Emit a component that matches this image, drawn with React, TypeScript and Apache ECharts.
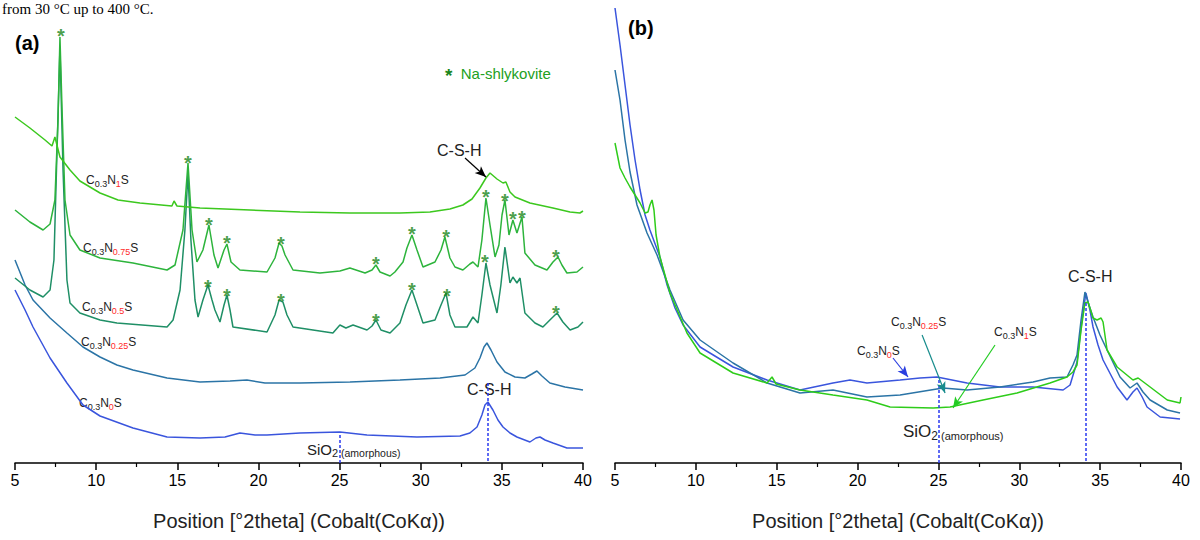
import { useEffect, useRef } from "react";
import * as echarts from "echarts";

// ---------- data (2θ in degrees, intensity in arbitrary units, traces offset) ----------
const X_MIN = 5;
const X_MAX = 40;
const X_STEP = 5;
const X_TITLE = "Position [°2theta] (Cobalt(CoKα))";
const Y_MAX = 463;

// Panel (a)
const a_N1: [number, number][] = [
  [5.0, 346], [5.92, 335], [6.85, 323], [7.28, 317], [7.46, 326], [7.77, 306], [8.39, 293], [9.0, 282],
  [10.24, 270], [11.35, 263], [12.7, 260], [14.67, 257], [14.8, 262], [14.98, 257], [16.4, 255], [19.48, 253],
  [22.56, 251], [25.64, 250], [28.72, 250], [30.57, 251], [31.8, 254], [32.6, 258], [33.16, 264], [33.65, 275],
  [34.02, 285], [34.27, 290], [34.7, 284], [35.07, 280], [35.25, 281], [35.5, 271], [35.81, 266], [36.73, 260],
  [38.15, 255], [39.2, 251], [39.81, 250], [40.0, 252],
];
const a_N075: [number, number][] = [
  [5.0, 253], [5.92, 241], [6.73, 233], [7.16, 239], [7.46, 263], [7.65, 343], [7.77, 426], [7.9, 353],
  [8.08, 263], [8.39, 228], [9.0, 213], [10.24, 205], [12.27, 200], [14.37, 193], [14.86, 198], [15.35, 233],
  [15.66, 300], [15.91, 233], [16.21, 201], [16.58, 213], [16.95, 238], [17.26, 208], [17.51, 195], [17.88, 213],
  [18.06, 219], [18.31, 201], [18.86, 193], [20.53, 191], [21.02, 205], [21.27, 220], [21.45, 217], [21.64, 208],
  [22.13, 193], [23.79, 190], [25.02, 192], [25.64, 195], [26.57, 190], [27.0, 193], [27.24, 198], [27.49, 191],
  [28.11, 187], [28.41, 191], [28.91, 201], [29.15, 215], [29.46, 228], [29.77, 213], [30.14, 196], [30.88, 201],
  [31.25, 213], [31.49, 226], [31.8, 205], [32.11, 196], [32.6, 193], [33.03, 199], [33.22, 201], [33.53, 196],
  [33.77, 223], [34.02, 265], [34.27, 238], [34.58, 206], [34.82, 218], [35.01, 248], [35.19, 263], [35.44, 228],
  [35.68, 243], [35.93, 230], [36.24, 246], [36.42, 210], [37.04, 198], [37.78, 193], [38.15, 201], [38.46, 206],
  [38.7, 198], [39.01, 190], [39.63, 191], [40.0, 196],
];
const a_N05: [number, number][] = [
  [5.0, 185], [5.92, 173], [6.73, 166], [7.16, 173], [7.4, 203], [7.59, 313], [7.77, 415], [7.96, 293],
  [8.2, 183], [8.39, 160], [9.0, 150], [10.24, 143], [11.28, 140], [14.37, 136], [14.74, 143], [15.17, 173],
  [15.47, 233], [15.66, 290], [15.84, 223], [16.09, 163], [16.28, 146], [16.58, 163], [16.89, 178], [17.14, 163],
  [17.32, 153], [17.63, 141], [17.88, 158], [18.06, 168], [18.25, 153], [18.43, 136], [20.53, 131], [21.02, 148],
  [21.27, 163], [21.51, 161], [21.76, 148], [22.13, 136], [24.59, 130], [25.02, 138], [25.39, 135], [25.83, 138],
  [26.69, 133], [27.0, 137], [27.24, 143], [27.55, 133], [28.11, 130], [28.72, 140], [29.09, 158], [29.46, 173],
  [29.77, 158], [30.14, 140], [30.88, 143], [31.25, 158], [31.56, 170], [31.8, 148], [32.11, 136], [32.85, 136],
  [33.22, 146], [33.53, 140], [33.77, 168], [34.02, 200], [34.27, 178], [34.7, 150], [34.94, 178], [35.19, 216],
  [35.5, 180], [35.68, 186], [35.93, 180], [36.12, 185], [36.42, 150], [37.04, 140], [37.53, 136], [37.96, 143],
  [38.4, 150], [38.76, 141], [39.2, 133], [39.69, 136], [40.0, 141],
];
const a_N025: [number, number][] = [
  [5.0, 203], [5.62, 178], [6.11, 163], [7.16, 145], [8.2, 130], [9.19, 116], [10.24, 106], [11.28, 98],
  [12.27, 93], [14.37, 85], [16.4, 81], [18.25, 82], [19.29, 83], [20.4, 80], [22.56, 80], [25.64, 81],
  [28.72, 83], [31.19, 85], [32.73, 88], [33.34, 95], [33.65, 105], [33.9, 116], [34.08, 120], [34.33, 113],
  [34.7, 101], [35.19, 91], [35.81, 86], [36.42, 85], [36.85, 89], [37.16, 92], [37.47, 87], [37.96, 80],
  [38.89, 76], [40.0, 73],
];
const a_N0: [number, number][] = [
  [5.0, 173], [5.62, 153], [6.11, 136], [7.16, 105], [8.2, 80], [9.19, 58], [10.24, 47], [12.27, 35],
  [14.37, 26], [16.4, 25], [17.94, 26], [18.86, 30], [19.79, 28], [20.53, 28], [22.56, 30], [25.02, 31],
  [26.69, 28], [29.77, 26], [32.42, 27], [33.03, 30], [33.47, 36], [33.77, 48], [33.96, 58], [34.14, 61],
  [34.45, 53], [34.76, 43], [35.07, 36], [35.5, 30], [35.93, 26], [36.73, 21], [37.1, 25], [37.35, 26],
  [37.66, 23], [38.15, 20], [39.01, 15], [40.0, 15],
];
// Na-shlykovite reflections marked with "*"
const starsA_N075: [number, number][] = [
  [7.83, 433], [15.66, 306], [16.95, 244], [18.06, 226], [21.39, 225], [27.24, 205], [29.46, 235],
  [31.56, 232], [34.02, 272], [35.19, 268], [35.68, 250], [36.24, 251], [38.33, 212],
];
const starsA_N05: [number, number][] = [
  [16.89, 182], [18.06, 173], [21.39, 168], [27.24, 148], [29.46, 179], [31.62, 173], [33.96, 207], [38.33, 156],
];

// Panel (b)
const b_N0: [number, number][] = [
  [5.0, 455], [5.31, 418], [5.62, 378], [5.93, 338], [6.24, 303], [6.55, 273], [6.86, 248], [7.16, 233],
  [7.78, 206], [8.22, 178], [8.71, 155], [9.21, 138], [10.26, 116], [12.3, 96], [14.4, 83], [16.44, 73],
  [18.48, 80], [19.53, 83], [20.58, 80], [22.63, 83], [23.86, 85], [24.91, 86], [26.77, 80], [28.81, 76],
  [30.85, 76], [32.71, 73], [33.14, 78], [33.57, 101], [33.88, 143], [34.12, 170], [34.37, 153], [34.56, 136],
  [34.87, 118], [35.18, 103], [36.05, 76], [36.66, 63], [37.03, 71], [37.28, 75], [37.6, 66], [37.9, 56],
  [38.71, 46], [39.94, 44],
];
const b_N025: [number, number][] = [
  [5.0, 393], [5.31, 363], [5.62, 323], [5.93, 291], [6.36, 258], [6.98, 230], [7.6, 208], [8.4, 173],
  [9.21, 143], [10.26, 123], [12.3, 100], [14.4, 80], [16.44, 70], [18.48, 73], [20.58, 66], [22.63, 68],
  [25.28, 75], [26.77, 73], [28.81, 76], [30.85, 81], [31.9, 85], [32.95, 86], [33.32, 98], [33.57, 108],
  [33.82, 143], [34.06, 171], [34.31, 158], [34.56, 146], [34.99, 128], [35.43, 113], [36.23, 86], [36.85, 75],
  [37.28, 80], [37.65, 71], [38.09, 63], [39.15, 53], [39.94, 50],
];
const b_N1: [number, number][] = [
  [5.0, 320], [5.31, 295], [5.62, 285], [5.93, 276], [6.24, 268], [6.55, 260], [6.86, 250], [7.04, 251],
  [7.16, 258], [7.29, 263], [7.41, 253], [7.54, 228], [7.78, 206], [8.4, 170], [9.45, 130], [10.26, 110],
  [12.3, 90], [14.4, 80], [14.71, 86], [14.96, 79], [16.44, 73], [18.48, 68], [20.58, 63], [22.01, 56],
  [24.67, 55], [25.72, 56], [27.76, 63], [29.86, 70], [31.9, 80], [32.95, 86], [33.32, 91], [33.57, 98],
  [33.82, 133], [34.06, 160], [34.25, 161], [34.56, 145], [34.81, 143], [35.06, 145], [35.18, 141], [35.43, 113],
  [36.05, 96], [37.03, 83], [37.35, 85], [38.09, 76], [39.15, 63], [39.94, 60], [40.0, 66],
];

// reference lines
const SIO2_POS = 25.0;
const CSH_POS_A = 34.15;
const CSH_POS_B = 34.12;

// ---------- styles ----------
const FONT = "'Liberation Sans', Arial, Helvetica, sans-serif";
const C_N1 = "#3cc81e";
const C_N075 = "#2db43c";
const C_N05 = "#1f8f66";
const C_N025 = "#2b74a6";
const C_N0 = "#3a55dd";
const C_STAR = "#1a861a";
const C_DASH = "#2a3af0";
const TXT = "#222222";

const labelRich: any = {
  m: { fontSize: 12, lineHeight: 16, fill: TXT, fontFamily: FONT },
  s: { fontSize: 9, lineHeight: 8, verticalAlign: "bottom", fill: TXT, fontFamily: FONT },
  r: { fontSize: 9, lineHeight: 8, verticalAlign: "bottom", fill: "#ff2a2a", fontFamily: FONT },
};
const sampleText = (n: string) => `{m|C}{s|0.3}{m|N}{r|${n}}{m|S}`;

function sampleLabel(n: string, x: number, y: number) {
  return {
    type: "text",
    x,
    y,
    silent: true,
    style: { text: sampleText(n), rich: labelRich, verticalAlign: "middle", align: "left" },
  };
}
function plainText(text: string, x: number, y: number, size: number, extra: any = {}) {
  return {
    type: "text",
    x,
    y,
    silent: true,
    style: { text, fontSize: size, fontFamily: FONT, fill: TXT, verticalAlign: "middle", align: "left", ...extra },
  };
}
function sioText(x: number, y: number, big: number, small: number, amor: number) {
  return {
    type: "text",
    x,
    y,
    silent: true,
    style: {
      text: "{t|SiO}{s|2}{a| (amorphous)}",
      verticalAlign: "middle",
      align: "left",
      rich: {
        t: { fontSize: big, lineHeight: big + 4, fill: TXT, fontFamily: FONT },
        s: { fontSize: small, lineHeight: small, verticalAlign: "bottom", fill: TXT, fontFamily: FONT },
        a: { fontSize: amor, lineHeight: amor - 1, verticalAlign: "bottom", fill: TXT, fontFamily: FONT },
      },
    },
  };
}

function xAxis(gridIndex: number) {
  return {
    type: "value",
    gridIndex,
    min: X_MIN,
    max: X_MAX,
    interval: X_STEP,
    name: X_TITLE,
    nameLocation: "middle",
    nameGap: 48,
    nameTextStyle: { fontSize: 20, color: TXT, fontFamily: FONT },
    axisLine: { show: true, onZero: false, lineStyle: { color: "#000", width: 1.5 } },
    axisTick: { show: true, inside: false, length: 7, lineStyle: { color: "#000", width: 1.5 } },
    minorTick: { show: true, splitNumber: 2, length: 4, lineStyle: { color: "#000", width: 1.2 } },
    axisLabel: { fontSize: 16, color: "#000", fontFamily: FONT, margin: 9 },
    splitLine: { show: false },
    minorSplitLine: { show: false },
  };
}
function yAxis(gridIndex: number) {
  return { type: "value", gridIndex, min: 0, max: Y_MAX, show: false };
}
function line(name: string, data: [number, number][], color: string, gi: number, extra: any = {}) {
  return {
    type: "line",
    name,
    xAxisIndex: gi,
    yAxisIndex: gi,
    data,
    showSymbol: false,
    symbol: "none",
    silent: true,
    lineStyle: { color, width: 1.5 },
    itemStyle: { color },
    ...extra,
  };
}
function stars(data: [number, number][]) {
  return {
    type: "scatter",
    xAxisIndex: 0,
    yAxisIndex: 0,
    data,
    symbolSize: 1,
    silent: true,
    z: 5,
    itemStyle: { color: "rgba(0,0,0,0)" },
    label: {
      show: true,
      formatter: "*",
      position: "inside",
      color: C_STAR,
      fontSize: 20,
      fontWeight: "bold",
      fontFamily: FONT,
      offset: [0, 6],
    },
  };
}
function dashed(x: number, yTop: number) {
  return [
    { coord: [x, yTop], symbol: "none", lineStyle: { color: C_DASH, type: [3, 2], width: 1.5 } },
    { coord: [x, 0], symbol: "none" },
  ];
}
function arrow(p1: [number, number], p2: [number, number], color: string) {
  return [
    { coord: p1, symbol: "none", lineStyle: { color, type: "solid", width: 1.2 } },
    { coord: p2, symbol: "arrow", symbolSize: [7, 11], itemStyle: { color } },
  ];
}

const option: any = {
  animation: false,
  backgroundColor: "#ffffff",
  grid: [
    { left: 15, right: 617, top: 0, bottom: 77, containLabel: false },
    { left: 615, right: 19, top: 0, bottom: 77, containLabel: false },
  ],
  xAxis: [xAxis(0), xAxis(1)],
  yAxis: [yAxis(0), yAxis(1)],
  series: [
    line("C0.3N0S (a)", a_N0, C_N0, 0, {
      markLine: {
        silent: true,
        animation: false,
        label: { show: false },
        data: [dashed(CSH_POS_A, 80), dashed(SIO2_POS, 28)],
      },
    }),
    line("C0.3N0.25S (a)", a_N025, C_N025, 0),
    line("C0.3N0.5S (a)", a_N05, C_N05, 0),
    line("C0.3N0.75S (a)", a_N075, C_N075, 0),
    line("C0.3N1S (a)", a_N1, C_N1, 0, {
      markLine: {
        silent: true,
        animation: false,
        label: { show: false },
        data: [arrow([32.73, 305], [34.02, 286], "#000")],
      },
    }),
    stars(starsA_N075),
    stars(starsA_N05),
    line("C0.3N0S (b)", b_N0, C_N0, 1, {
      markLine: {
        silent: true,
        animation: false,
        label: { show: false },
        data: [dashed(CSH_POS_B, 160), dashed(SIO2_POS, 83)],
      },
    }),
    line("C0.3N0.25S (b)", b_N025, C_N025, 1),
    line("C0.3N1S (b)", b_N1, "#2ecc1a", 1, {
      markLine: {
        silent: true,
        animation: false,
        label: { show: false },
        data: [
          arrow([22.19, 105], [23.12, 86], "#2a3ee0"),
          arrow([23.99, 128], [25.41, 70], "#178c8c"),
          arrow([28.5, 118], [25.9, 55], "#22cc22"),
        ],
      },
    }),
  ],
  graphic: [
    {
      type: "text",
      x: 2,
      y: 1,
      silent: true,
      style: {
        text: "from 30 °C up to 400 °C.",
        fontSize: 15,
        fontFamily: "'Liberation Serif', 'Times New Roman', serif",
        fill: "#000",
        verticalAlign: "top",
        align: "left",
      },
    },
    plainText("(a)", 15, 43, 20, { fontWeight: "bold", fill: "#000" }),
    plainText("(b)", 628, 28, 20, { fontWeight: "bold", fill: "#000" }),
    {
      type: "text",
      x: 445,
      y: 73,
      silent: true,
      style: {
        text: "{s|*}{g|  Na-shlykovite}",
        verticalAlign: "middle",
        align: "left",
        rich: {
          s: { fontSize: 19, fontWeight: "bold", fill: C_STAR, fontFamily: FONT, padding: [5, 0, 0, 0] },
          g: { fontSize: 15, fill: "#22a022", fontFamily: FONT },
        },
      },
    },
    sampleLabel("1", 86, 180),
    sampleLabel("0.75", 83, 248),
    sampleLabel("0.5", 82, 307),
    sampleLabel("0.25", 81, 342),
    sampleLabel("0", 79, 403),
    plainText("C-S-H", 437, 150, 16),
    plainText("C-S-H", 467, 389, 16),
    sioText(307, 449, 15, 11, 10.5),
    plainText("C-S-H", 1068, 276, 16),
    sioText(903, 431, 17, 12, 11),
    sampleLabel("0", 857, 351),
    sampleLabel("0.25", 891, 322),
    sampleLabel("1", 994, 332),
  ],
};

export default function App() {
  const ref = useRef<HTMLDivElement>(null);
  useEffect(() => {
    if (!ref.current) return;
    const chart = echarts.init(ref.current, null, { renderer: "svg" });
    chart.setOption(option);
    return () => chart.dispose();
  }, []);
  return (
    <div
      ref={ref}
      style={{ position: "fixed", left: 0, top: 0, width: 1200, height: 540, background: "#fff" }}
    />
  );
}
